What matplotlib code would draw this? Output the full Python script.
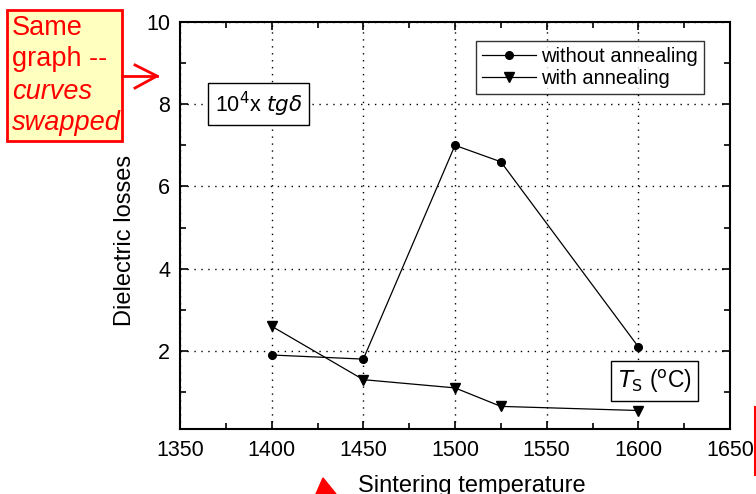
import matplotlib
matplotlib.use("Agg")
import matplotlib.pyplot as plt
from matplotlib.patches import Polygon, Rectangle
from matplotlib.ticker import MultipleLocator

plt.rcParams['font.family'] = ['Liberation Sans', 'DejaVu Sans']

temps_wo = [1400, 1450, 1500, 1525, 1600]
losses_wo = [1.9, 1.8, 7.0, 6.6, 2.1]
temps_w = [1400, 1450, 1500, 1525, 1600]
losses_w = [2.6, 1.3, 1.1, 0.65, 0.55]
xticks = [1350, 1400, 1450, 1500, 1550, 1600, 1650]
yticks = [2, 4, 6, 8, 10]

fig = plt.figure(figsize=(7.56, 4.94), dpi=100)
ax = fig.add_axes([180/756, 1-429/494, 550/756, 407/494])

ax.plot(temps_wo, losses_wo, '-', color='black', lw=0.9, marker='o', ms=5.5,
        label='without annealing')
ax.plot(temps_w, losses_w, '-', color='black', lw=0.9, marker='v', ms=7,
        label='with annealing')

ax.set_xlim(1350, 1650)
ax.set_ylim(0.1, 10)
ax.set_xticks(xticks)
ax.set_yticks(yticks)
ax.xaxis.set_minor_locator(MultipleLocator(25))
ax.yaxis.set_minor_locator(MultipleLocator(1))
ax.tick_params(which='both', direction='in', top=True, right=True,
               labelsize=15.5, width=1.2)
ax.tick_params(which='major', length=6)
ax.tick_params(which='minor', length=4)
ax.tick_params(axis='x', pad=8)
ax.tick_params(axis='y', pad=7)
ax.grid(True, which='major', linestyle=(0, (1, 4)), color='black', lw=1.0)
for s in ax.spines.values():
    s.set_linewidth(1.5)

ax.set_ylabel('Dielectric losses', fontsize=17)
ax.yaxis.set_label_coords(-0.08, 0.464)
ax.set_xlabel('Sintering temperature', fontsize=17)
ax.xaxis.set_label_coords(0.531, -0.14)
ax.xaxis.label.set_va('center')

leg = ax.legend(loc='upper right', bbox_to_anchor=(0.953, 0.953), fontsize=14.5,
                frameon=True, fancybox=False, edgecolor='black',
                handlelength=2.7, handletextpad=0.25, borderpad=0.3,
                labelspacing=0.15, borderaxespad=0)
leg.get_frame().set_linewidth(1.0)

ax.text(1609, 1.27, r'$T_{\rm S}$ ($^{\rm o}$C)', fontsize=16.5, va='center', ha='center',
        bbox=dict(boxstyle='square,pad=0.28', fc='white', ec='black', lw=1.0))
ax.text(1369, 8.0, r'10$^4$x $tg\delta$', fontsize=15.5, va='center', ha='left',
        bbox=dict(boxstyle='square,pad=0.3', fc='white', ec='black', lw=1.0))

# red annotation box
fig.patches.append(Rectangle((7/756, 1-141/494), 115/756, 131/494,
                             transform=fig.transFigure, fc='#ffffc0', ec='red',
                             lw=2, zorder=-1))
lines = [('Same', 'normal', 35), ('graph --', 'normal', 66),
         ('curves', 'italic', 99), ('swapped', 'italic', 130)]
for txt, st, yb in lines:
    fig.text(12/756, 1-yb/494, txt, color='red', fontsize=19.5, style=st,
             va='baseline', ha='left')
fig.add_artist(plt.Line2D([122/756, 157/756], [1-76/494, 1-76/494],
                          transform=fig.transFigure, color='red', lw=2))
fig.add_artist(plt.Line2D([135/756, 157/756, 135/756],
                          [1-65/494, 1-76/494, 1-88/494],
                          transform=fig.transFigure, color='red', lw=2))
fig.add_artist(Polygon([[316/756, 0], [336/756, 0], [323/756, 1-478/494]],
                       closed=True, transform=fig.transFigure, color='red'))
fig.add_artist(plt.Line2D([754.5/756, 754.5/756], [1-475/494, 1-407/494],
                          transform=fig.transFigure, color='red', lw=1.5))

fig.savefig('out.png', dpi=100)
